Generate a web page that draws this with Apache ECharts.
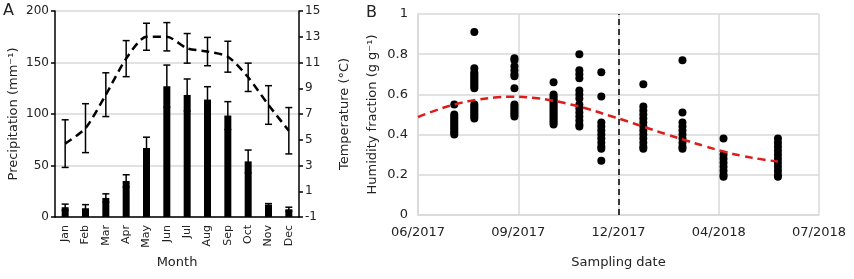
<!DOCTYPE html>
<html>
<head>
<meta charset="utf-8">
<script src="https://cdn.jsdelivr.net/npm/echarts@6/dist/echarts.min.js"></script>
<style>
  html, body { margin: 0; padding: 0; background: #fff; }
  #main { width: 854px; height: 279px; }
</style>
</head>
<body>
<div id="main"></div>
<script>
// ---- panel A: monthly climate ----
var months = ['Jan', 'Feb', 'Mar', 'Apr', 'May', 'Jun', 'Jul', 'Aug', 'Sep', 'Oct', 'Nov', 'Dec'];
var precip = [9.5, 8.5, 18.5, 35, 67, 127, 118.5, 114, 98.5, 54, 12, 7.5];
var precipErr = [3, 3.5, 4, 6, 10.5, 20.5, 15.5, 12.5, 13.5, 11, 1, 2];
var temp = [4.7, 5.9, 8.5, 11.3, 13.0, 13.0, 12.1, 11.85, 11.45, 9.85, 7.7, 5.7];
var tempErr = [1.85, 1.9, 1.7, 1.4, 1.05, 1.1, 1.15, 1.1, 1.2, 1.1, 1.5, 1.8];

// ---- panel B: humidity per sampling date ----
// x in days since 1 June 2017, labels every 105 days
var dateTicks = ['06/2017', '09/2017', '12/2017', '04/2018', '07/2018'];
var tickStep = 105;
var samplingDays = [38, 59, 101, 142, 169, 192, 236, 277, 320, 377];
var humidity = [
  [0.55, 0.50, 0.49, 0.48, 0.47, 0.46, 0.45, 0.44, 0.43, 0.42, 0.41, 0.40],
  [0.91, 0.73, 0.71, 0.70, 0.69, 0.68, 0.67, 0.66, 0.65, 0.64, 0.63, 0.55, 0.54, 0.53, 0.52, 0.51, 0.50, 0.49, 0.48],
  [0.78, 0.77, 0.74, 0.72, 0.70, 0.69, 0.63, 0.55, 0.54, 0.53, 0.52, 0.51, 0.50, 0.49],
  [0.66, 0.60, 0.59, 0.58, 0.57, 0.56, 0.55, 0.54, 0.53, 0.52, 0.51, 0.50, 0.49, 0.48, 0.47, 0.46, 0.45],
  [0.80, 0.72, 0.70, 0.68, 0.62, 0.60, 0.58, 0.55, 0.53, 0.51, 0.49, 0.47, 0.45, 0.44],
  [0.71, 0.59, 0.46, 0.44, 0.42, 0.40, 0.38, 0.36, 0.34, 0.33, 0.27],
  [0.65, 0.54, 0.52, 0.50, 0.48, 0.46, 0.44, 0.42, 0.40, 0.38, 0.36, 0.34, 0.33],
  [0.77, 0.51, 0.46, 0.44, 0.42, 0.40, 0.38, 0.36, 0.34, 0.33],
  [0.38, 0.30, 0.28, 0.26, 0.24, 0.22, 0.20, 0.19],
  [0.38, 0.36, 0.34, 0.32, 0.30, 0.28, 0.26, 0.24, 0.22, 0.20, 0.19]
];
var trendDays = [0, 20, 40, 60, 80, 100, 120, 140, 160, 180, 200, 220, 240, 260, 280, 300, 320, 340, 360, 377];
var trendValues = [0.487, 0.523, 0.552, 0.572, 0.584, 0.588, 0.583, 0.570, 0.550, 0.525, 0.495, 0.465, 0.433, 0.402, 0.372, 0.343, 0.316, 0.294, 0.277, 0.266];
var winterStart = 210; // dashed divider

var font = 'DejaVu Sans';
var txt = '#222';
var grid = '#d9d9d9';

var precipErrData = precip.map(function (v, i) { return [i, v - precipErr[i], v + precipErr[i]]; });
var tempErrData = temp.map(function (v, i) { return [i, v - tempErr[i], v + tempErr[i]]; });
var scatterData = [];
samplingDays.forEach(function (d, i) {
  humidity[i].forEach(function (h) { scatterData.push([d, h]); });
});
var trendData = trendDays.map(function (d, i) { return [d, trendValues[i]]; });

function errorBar(params, api) {
  var lo = api.coord([api.value(0), api.value(1)]);
  var hi = api.coord([api.value(0), api.value(2)]);
  var cap = 3.5;
  var st = { stroke: '#000', lineWidth: 1.5, fill: null };
  return {
    type: 'group',
    children: [
      { type: 'line', shape: { x1: lo[0], y1: lo[1], x2: hi[0], y2: hi[1] }, style: st },
      { type: 'line', shape: { x1: hi[0] - cap, y1: hi[1], x2: hi[0] + cap, y2: hi[1] }, style: st },
      { type: 'line', shape: { x1: lo[0] - cap, y1: lo[1], x2: lo[0] + cap, y2: lo[1] }, style: st }
    ]
  };
}

var chart = echarts.init(document.getElementById('main'));
chart.setOption({
  animation: false,
  textStyle: { fontFamily: font, color: txt },
  graphic: [
    { type: 'text', left: 3, top: 3, style: { text: 'A', fontSize: 16, fontFamily: font, fill: txt } },
    { type: 'text', left: 366, top: 5, style: { text: 'B', fontSize: 16, fontFamily: font, fill: txt } }
  ],
  grid: [
    { left: 55, right: 555, top: 11, height: 206 },
    { left: 418, right: 35, top: 14, height: 201 }
  ],
  xAxis: [{
    gridIndex: 0,
    type: 'category',
    data: months,
    axisLine: { lineStyle: { color: '#000', width: 1.5 } },
    axisTick: { show: false },
    axisLabel: { rotate: 90, fontSize: 11, color: txt, margin: 8 },
    name: 'Month',
    nameLocation: 'middle',
    nameGap: 39,
    nameTextStyle: { fontSize: 13, color: txt }
  }, {
    gridIndex: 1,
    type: 'value',
    min: 0,
    max: tickStep * 4,
    interval: tickStep,
    axisLine: { lineStyle: { color: grid, width: 1.5 } },
    axisTick: { show: false },
    axisLabel: {
      fontSize: 13, color: txt, margin: 11,
      formatter: function (v) { return dateTicks[Math.round(v / tickStep)]; }
    },
    splitLine: { show: true, lineStyle: { color: grid, width: 1.5 } },
    name: 'Sampling date',
    nameLocation: 'middle',
    nameGap: 41,
    nameTextStyle: { fontSize: 13, color: txt }
  }],
  yAxis: [{
    gridIndex: 0,
    type: 'value',
    min: 0, max: 200, interval: 50,
    axisLine: { show: true, lineStyle: { color: '#000', width: 1.5 } },
    axisTick: { show: true, length: 4, lineStyle: { color: '#000', width: 1.5 } },
    axisLabel: { fontSize: 12, color: txt, margin: 6 },
    splitLine: { show: true, lineStyle: { color: grid, width: 1.5 } },
    name: 'Precipitation (mm⁻¹)',
    nameLocation: 'middle',
    nameRotate: 90,
    nameGap: 35,
    nameTextStyle: { fontSize: 13, color: txt }
  }, {
    gridIndex: 0,
    type: 'value',
    position: 'right',
    min: -1, max: 15, interval: 2,
    axisLine: { show: true, lineStyle: { color: '#000', width: 1.5 } },
    axisTick: { show: true, length: 4, lineStyle: { color: '#000', width: 1.5 } },
    axisLabel: { fontSize: 12, color: txt, margin: 6 },
    splitLine: { show: false },
    name: 'Temperature (°C)',
    nameLocation: 'middle',
    nameRotate: 90,
    nameGap: 39,
    nameTextStyle: { fontSize: 13, color: txt }
  }, {
    gridIndex: 1,
    type: 'value',
    min: 0, max: 1, interval: 0.2,
    axisLine: { show: true, lineStyle: { color: grid, width: 1.5 } },
    axisTick: { show: false },
    axisLabel: { fontSize: 13, color: txt, margin: 10 },
    splitLine: { show: true, lineStyle: { color: grid, width: 1.5 } },
    name: 'Humidity fraction (g g⁻¹)',
    nameLocation: 'middle',
    nameRotate: 90,
    nameGap: 39,
    nameTextStyle: { fontSize: 13, color: txt }
  }],
  series: [{
    type: 'bar',
    xAxisIndex: 0, yAxisIndex: 0,
    data: precip,
    barWidth: 7,
    itemStyle: { color: '#000' },
    z: 2
  }, {
    type: 'custom',
    xAxisIndex: 0, yAxisIndex: 0,
    renderItem: errorBar,
    encode: { x: 0, y: [1, 2] },
    data: precipErrData,
    z: 3
  }, {
    type: 'line',
    xAxisIndex: 0, yAxisIndex: 1,
    data: temp,
    smooth: 0.25,
    symbol: 'none',
    lineStyle: { color: '#000', width: 2.5, type: [8, 5] },
    z: 4
  }, {
    type: 'custom',
    xAxisIndex: 0, yAxisIndex: 1,
    renderItem: errorBar,
    encode: { x: 0, y: [1, 2] },
    data: tempErrData,
    z: 5
  }, {
    type: 'scatter',
    xAxisIndex: 1, yAxisIndex: 2,
    data: scatterData,
    symbolSize: 8,
    itemStyle: { color: '#000', opacity: 1 },
    z: 3
  }, {
    type: 'line',
    xAxisIndex: 1, yAxisIndex: 2,
    data: trendData,
    smooth: true,
    symbol: 'none',
    lineStyle: { color: '#dd1c1c', width: 2.5, type: [8, 5] },
    markLine: {
      silent: true,
      symbol: 'none',
      label: { show: false },
      lineStyle: { color: '#000', width: 1.5, type: [6, 4] },
      data: [{ xAxis: winterStart }]
    },
    z: 4
  }]
});
</script>
</body>
</html>
